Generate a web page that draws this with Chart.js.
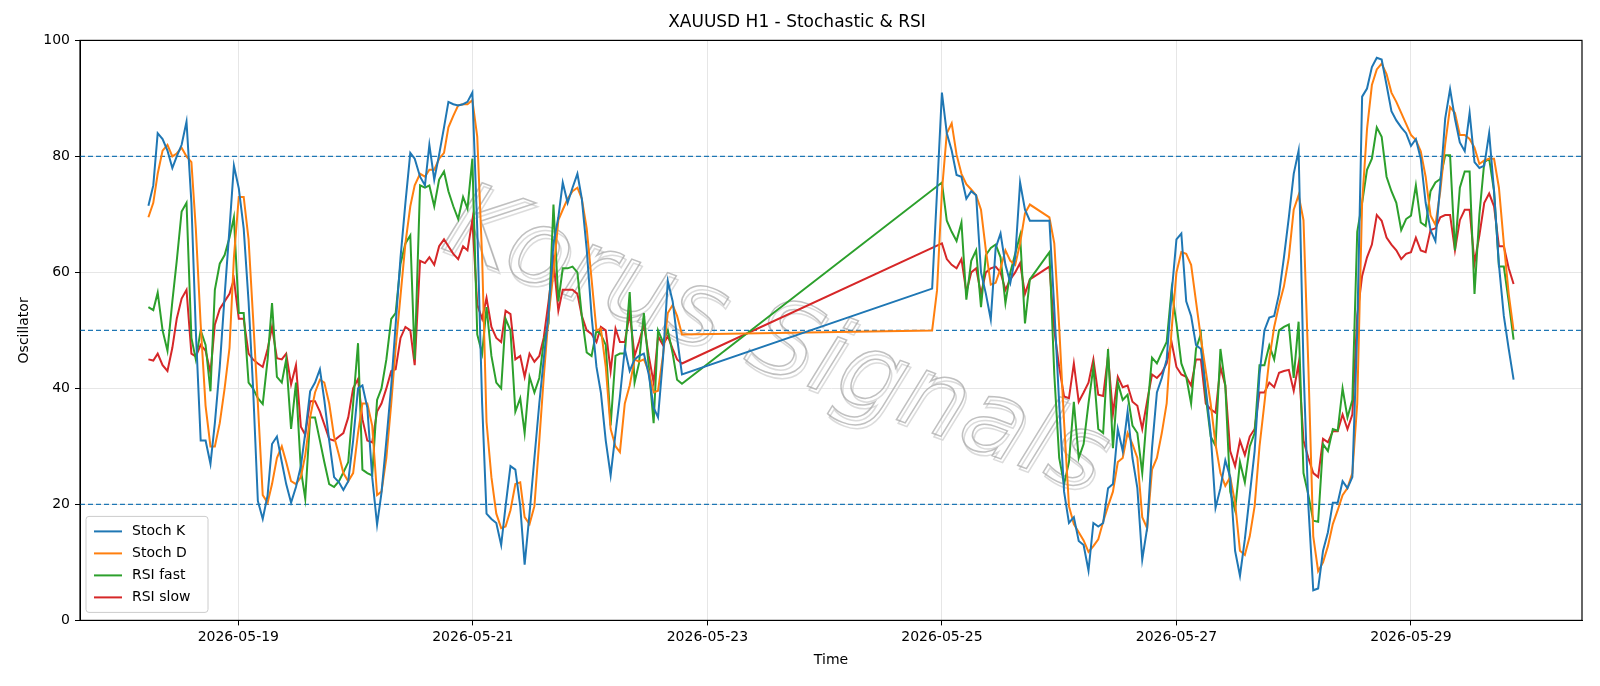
<!DOCTYPE html>
<html>
<head>
<meta charset="utf-8">
<script src="https://cdn.jsdelivr.net/npm/chart.js@4.4.1/dist/chart.umd.min.js"></script>
<style>
  html, body { margin: 0; padding: 0; background: #fff; }
  #wrap { width: 1600px; height: 686px; }
</style>
</head>
<body>
<div id="wrap"><canvas id="osc-chart" width="1600" height="686"></canvas></div>
<script>
// hours since 2026-05-18 00:00
const timesWeek1 = [5.6,6.6,7.5,8.5,9.5,10.5,11.4,12.4,13.4,14.4,15.3,16.3,17.3,18.3,19.2,20.2,21.2,22.2,23.1,24.1,
    25.1,26.1,27.0,28.0,29.0,30.0,30.9,31.9,32.9,33.8,34.8,35.8,36.8,37.7,38.7,39.7,40.7,41.6,42.6,43.6,
    44.6,45.5,46.5,47.5,48.5,49.4,50.4,51.4,52.4,53.3,54.3,55.3,56.2,57.2,58.2,59.2,60.1,
    61.2,62.2,63.1,64.1,65.1,66.1,67.0,68.0,69.0,70.0,70.9,71.9,72.9,73.9,74.8,75.8,76.8,77.8,78.7,79.7,
    80.7,81.7,82.6,83.6,84.6,85.6,86.5,87.5,88.5,89.5,90.4,91.4,92.4,93.4,94.3,95.3,96.3,97.3,98.2,99.2,
    100.2,101.2,102.1,103.1,104.1,105.1,106.0,107.0,108.0,109.0,109.9,110.9,111.9,112.9,113.8,114.8];
const timesWeek2 = [166,167,168,169,170,171,172,173,174,175,176,177,178,179,180,181,182,183,184,185,186,
    190,191,192,193,194,195,196,197,198,199,200,201,202,203,204,205,206,207,208,209,210,211,212,213,214,215,216,217,218,
    219,220,221,222,223,224,225,226,227,228,229,230,231,232,233,234,235,236,237,238,239,240,241,242,243,244,245,246,247,248,249,250,251,252,
    253,254,255,256,257,258,259,260,261,262,263,264,265,266,267,268,269,270,271,272,273,274,275,276,277,278,279,280,281,282,283,284,285];

const stochK1 = [71.5,75,84,83,81,78,80,82,86,72,50,31,31,27,34,43.7,56,67.6,78.4,74.5,
    67.6,55,40.5,20.6,17.5,21.6,30.4,31.7,27.3,23.5,20.3,23,26.6,32.3,39.5,41,43.3,38,31,24.7,
    23.8,22.5,24,31,40,40.5,36.7,24.7,16.5,22,31,40.5,51,62.6,72,80.6,79.6,
    76.5,75,82,76,80.3,85,89.4,89,88.8,89,89.4,91,67.6,37.4,18.4,17.5,16.8,13,19.7,26.6,
    26,19.7,9.6,18.4,28,37.4,45,53,65,69.5,75.5,72,74.6,77,72.7,64,52.5,43.7,39.3,31,
    25,32.3,38.6,46.8,43,45,45.6,46,42.4,36.7,35,45,58.5,55,48.7,42.4];
const stochD1 = [69.5,72,77,81,82,80,80.5,81.5,80,79,67.6,51,37,30,30,34,40,47,62.6,73,
    73,65.7,52.5,37.4,21.6,20.3,23.5,28,30,27.3,24,23.5,24.7,28.5,35,39.3,41.5,41,37.4,31.7,
    28.5,25.4,24,25.4,32.3,37.4,37.4,33.6,21.6,22.2,28,37.4,47,56,65,71.4,75,
    77,76.5,77.7,77.7,79.6,80.6,85,87,88.8,89,89,89.7,83.4,62.6,34.2,24.7,18.4,15.9,16.2,19,
    23.5,23.8,17.8,16.6,19.7,31,41.8,52.5,60,69,70.8,72.7,74,74.6,72.7,67.6,58.8,50,50.3,43.7,
    33,30,29,37.4,40.5,45,44.6,45,43,39.3,39.6,45.6,53,54.4,52.5,49.3];
const rsiFast1 = [54,53.5,56.5,50,46.5,55,62,70.5,72,48.7,45,50,47.5,39.5,57,61.5,63,66,69.5,53,
    53,41,40,38.3,37.3,45,54.7,42,41,45,33,41,26,21,35,35,31,27.3,23.5,23,
    24,25.5,27.3,37.4,47.8,26,25.4,25,38,40,45,52,53,61.5,65,66.4,45,
    75,74.6,75,71.4,76,77.4,74,71.4,69.2,73,71,79.6,49.3,46,54,45.6,41,40,52,50,
    36,38.3,32.3,42,39.3,41.8,48,51.2,71.7,55,60.7,60.7,61,60,52.5,46.2,45.6,50,49.3,47.5,
    33.6,45.6,46,46,56.6,41,44.3,53,43.7,34,50,48,50,46,41.5,40.8];
const rsiSlow1 = [45,44.8,46,44,43,47,52,55.5,57,46,45.5,47.5,46.5,42.7,51,53.7,55,56.3,58.8,52,
    52,46,45,44.3,43.7,46.8,50.6,45.2,45,46,40.7,44,33.4,32,37.8,37.8,36,33.8,31.3,31,
    31.7,32.3,35,40,41.6,34.7,31,30.7,36,37.4,40,43,43.3,48.7,50.6,50,44,
    62,61.6,62.6,61.3,64.5,65.7,64.5,63.2,62.3,64.5,63.8,69,54.4,52,55.6,50.6,48.7,48,53.4,52.8,
    45,45.6,42,46,44.6,45.6,48.7,55,62,53.4,57,57,57,56.3,52.5,50,49.4,48,50.6,50,
    43,50.3,48,48,53,45.6,48,51,45.6,41,49,47.5,49,46.8,45,44.3];

const stochK2 = [57.2,73.9,91,84,81,76.8,76.5,72.7,74,73.3,60,56.3,51.9,64.2,66.7,61.3,58.2,62.6,75.5,70.8,68.9,
    68.9,53.8,37.4,22.2,16.8,17.8,13.7,13,8.6,16.8,16.2,16.8,22.8,23.5,33,29.2,36,28,22.8,10.5,15.9,29.7,39.3,41.8,45,56.3,65.7,66.7,55,
    52.5,47.5,46.8,40,32.3,19.4,22.8,27.6,24.7,12,7.7,14,21.6,29.2,42.4,50,52.2,52.5,56.3,62.6,69.5,77,81,43.7,19.7,5.2,5.5,12,15.2,20.3,20.3,24,22.8,24.7,
    50,90.3,91.7,95.4,97,96.7,92.3,87.8,86.2,85,84,81.8,83,79.6,72,67.3,65.4,75.2,86.5,91.6,86.5,82.4,80.9,87.5,79,78,78.4,84,74,61.3,52.5,46.8,41.5];
const stochD2 = [50,56.9,74,84,85.7,80.3,77,75.2,74.3,73.3,70.8,63.8,57.9,58.2,60.7,63.8,62,61.3,65,70.2,71.7,
    69.5,65,50.6,34.2,19.7,16.6,15.2,13.8,11.8,12.8,14,17,19.7,22.2,27.3,28,32.3,30.4,28,17.8,15.9,26,28,32.3,37.4,50,60,63.5,63.2,
    61.3,55,48.7,43,37.4,30.4,25.4,23.2,24.7,20.3,12,11.3,14.5,19.7,30,37.4,45,50.6,54.4,57.6,62.6,70.8,73.3,69,43.7,14.5,8.5,10,12.8,16.6,19,21.6,22.8,25.4,
    37.4,72,84.7,92.3,95,96,94.2,91,89.4,87.5,85.6,83.7,82.8,80.9,76.5,69.8,68.2,74,82.1,88.5,87.5,83.7,83.7,83,81.5,78.7,79.3,79.6,79.6,74.6,65,56.3,50];
const rsiFast2 = [null,null,75.5,68.9,67,65.4,68.6,55.3,62,63.8,54,63,64.2,64.8,62.6,54.7,60,63.2,66.4,51.2,58.8,
    63.5,42.4,28,23.5,27.3,37.7,28,30.4,37.4,43.7,33,32.3,46.8,29.7,41,38,38.9,33.6,32.3,25.4,36,45.3,44.3,46.2,48,57,51.2,44.3,42,
    37.4,46.8,49.4,38.6,31.7,30.1,46.8,40.5,22.2,19,27.3,23.8,30,32.3,44,44,47.4,45,50,50.6,51,41.8,51.5,25.4,21.6,17.2,17,30.4,29.2,33,32.7,40,35,38,
    67,72,77.7,79.6,85,83.4,76.5,74,72,67.3,69.2,69.8,75,68.6,68,74,75.5,76.1,80.2,80.2,63.8,74.6,77.4,77.4,56.3,70,79,79.6,74,61,61,55,48.4];
const rsiSlow2 = [null,null,65,62.3,61.3,60.7,62.3,56.6,60,60.7,56.3,60,60.7,61,60,57,58.8,60,61.6,56.3,58.8,
    61,50,43.7,38.6,38.3,44.3,37.7,39.3,41,45,38.9,38.7,45.6,35.6,42,40.2,40.5,37.7,37,33,37.8,42.4,41.8,42.7,44.3,48,43.7,42.4,42,
    40.5,45,45,37.4,36.4,35.8,43.7,40.5,29.2,26.6,31,28.5,31.7,33,39.3,39.3,41,40.2,42.7,43,43.2,39.6,44.3,31,28,25.4,24.7,31.3,30.7,32.6,32.6,35.5,33,35.5,
    52.5,59.4,62.6,64.8,69.9,68.9,66,64.8,63.8,62.3,63.2,63.5,66,63.8,63.5,67.3,67.6,69.5,69.9,69.9,63.8,69,70.8,70.8,61.6,66.4,72,73.6,71.4,64.5,64.5,60.7,58];

const tickHours = [24, 72, 120, 168, 216, 264];
const tickLabels = ['2026-05-19', '2026-05-21', '2026-05-23', '2026-05-25', '2026-05-27', '2026-05-29'];
const levels = [20, 50, 80];
const xMin = -8.4, xMax = 299;

const FONT = "'DejaVu Sans', sans-serif";
Chart.defaults.font.family = FONT;
Chart.defaults.color = '#000';

function toPoints(times, values) {
    return times.map((t, i) => ({ x: t, y: values[i] }));
}

const allTimes = timesWeek1.concat(timesWeek2);
const seriesDefs = [
    { label: 'Stoch K', color: '#1f77b4', values: stochK1.concat(stochK2) },
    { label: 'Stoch D', color: '#ff7f0e', values: stochD1.concat(stochD2) },
    { label: 'RSI fast', color: '#2ca02c', values: rsiFast1.concat(rsiFast2) },
    { label: 'RSI slow', color: '#d62728', values: rsiSlow1.concat(rsiSlow2) }
];

function buildDatasets() {
    const sets = seriesDefs.map(s => ({
        label: s.label,
        data: toPoints(allTimes, s.values),
        borderColor: s.color,
        backgroundColor: s.color,
        borderWidth: 2,
        pointRadius: 0,
        tension: 0,
        spanGaps: true
    }));
    levels.forEach(v => {
        sets.push({
            label: 'level' + v,
            data: [{ x: xMin, y: v }, { x: xMax, y: v }],
            borderColor: '#1f77b4',
            borderWidth: 1.3,
            borderDash: [5, 3],
            pointRadius: 0
        });
    });
    return sets;
}

const framePlugin = {
    id: 'frame',
    beforeDatasetsDraw(chart) {
        // watermark
        const { ctx } = chart;
        ctx.save();
        ctx.translate(775, 345);
        ctx.rotate(0.36);
        ctx.font = "italic 104px " + FONT;
        ctx.textAlign = 'center';
        ctx.textBaseline = 'middle';
        ctx.lineWidth = 1.5;
        ctx.strokeStyle = 'rgba(215,215,215,0.9)';
        ctx.strokeText('Korus Signals', 3, 3);
        ctx.strokeStyle = 'rgba(165,165,165,0.7)';
        ctx.strokeText('Korus Signals', 0, 0);
        ctx.restore();
    },
    afterDatasetsDraw(chart) {
        const { ctx, chartArea: a } = chart;
        // frame
        ctx.save();
        ctx.strokeStyle = '#000';
        ctx.lineWidth = 1.2;
        ctx.strokeRect(a.left, a.top, a.right - a.left, a.bottom - a.top);
        ctx.restore();
        // legend lower left
        ctx.save();
        const x0 = a.left + 6, rowH = 22, n = seriesDefs.length;
        const h = rowH * n + 8, w = 122, y0 = a.bottom - 8 - h;
        ctx.fillStyle = 'rgba(255,255,255,0.8)';
        ctx.strokeStyle = '#cccccc';
        ctx.lineWidth = 1;
        ctx.beginPath();
        ctx.roundRect(x0, y0, w, h, 3);
        ctx.fill();
        ctx.stroke();
        ctx.font = '14px ' + FONT;
        ctx.textBaseline = 'middle';
        seriesDefs.forEach((s, i) => {
            const yy = y0 + 15 + i * rowH;
            ctx.strokeStyle = s.color;
            ctx.lineWidth = 2;
            ctx.beginPath();
            ctx.moveTo(x0 + 8, yy);
            ctx.lineTo(x0 + 36, yy);
            ctx.stroke();
            ctx.fillStyle = '#000';
            ctx.fillText(s.label, x0 + 46, yy);
        });
        ctx.restore();
    }
};

function initChart() {
    const ctx = document.getElementById('osc-chart').getContext('2d');
    return new Chart(ctx, {
        type: 'line',
        data: { datasets: buildDatasets() },
        options: {
            responsive: false,
            animation: false,
            devicePixelRatio: 1,
            layout: { padding: { left: 12, right: 18, top: 0, bottom: 13 } },
            scales: {
                x: {
                    type: 'linear',
                    min: xMin,
                    max: xMax,
                    afterBuildTicks: axis => { axis.ticks = tickHours.map(v => ({ value: v })); },
                    ticks: {
                        font: { size: 14 },
                        maxRotation: 0,
                        padding: 4,
                        callback: v => tickLabels[tickHours.indexOf(v)]
                    },
                    grid: { color: '#e6e6e6', tickColor: '#000', tickLength: 5 },
                    border: { color: '#000' },
                    title: { display: true, text: 'Time', font: { size: 14 }, padding: { top: 2, bottom: 4 } }
                },
                y: {
                    min: 0,
                    max: 100,
                    afterFit: s => { s.width = 68; },
                    ticks: { stepSize: 20, font: { size: 14 }, padding: 5 },
                    grid: { color: '#e6e6e6', tickColor: '#000', tickLength: 5 },
                    border: { color: '#000' },
                    title: { display: true, text: 'Oscillator', font: { size: 14 } }
                }
            },
            plugins: {
                legend: { display: false },
                tooltip: { enabled: false },
                title: {
                    display: true,
                    text: 'XAUUSD H1 - Stochastic & RSI',
                    font: { size: 17, weight: 'normal' },
                    padding: { top: 12, bottom: 8 }
                }
            }
        },
        plugins: [framePlugin]
    });
}

document.addEventListener('DOMContentLoaded', function() {
    initChart();
});
</script>
</body>
</html>
